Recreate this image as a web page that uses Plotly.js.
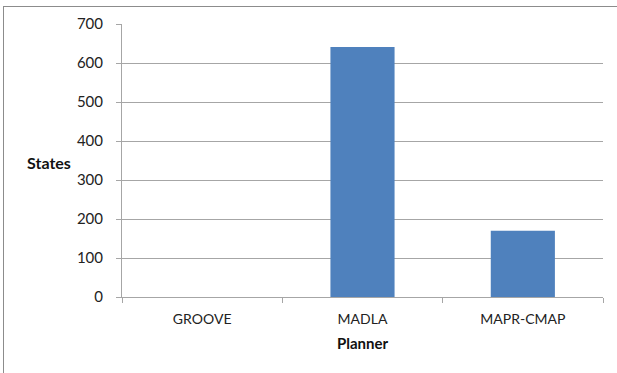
<!DOCTYPE html>
<html>
<head>
<meta charset="utf-8">
<script src="https://cdn.plot.ly/plotly-3.0.1.min.js"></script>
<style>
  html, body { margin: 0; padding: 0; background: #fff; overflow: hidden; }
  #wrap { position: relative; width: 617px; height: 373px; }
  #frame { position: absolute; left: 3px; top: 6px; width: 640px; height: 400px; border: 1px solid #8c8c8c; box-sizing: border-box; pointer-events: none; }
  #chart { position: absolute; left: 0; top: 0; width: 617px; height: 373px; }
</style>
</head>
<body>
<div id="wrap">
  <div id="chart"></div>
  <div id="frame"></div>
</div>
<script>
const planners = ["GROOVE", "MADLA", "MAPR-CMAP"];
const states = [0, 641, 170];
const yTicks = [0, 100, 200, 300, 400, 500, 600, 700];

const font = "Lato, 'Open Sans', 'Liberation Sans', sans-serif";

Plotly.newPlot("chart", [{
  type: "bar",
  x: planners,
  y: states,
  marker: { color: "#4F81BD", line: { width: 0 } },
  hoverinfo: "x+y"
}], {
  width: 617, height: 373,
  margin: { l: 122, r: 14, t: 24, b: 76, pad: 0 },
  paper_bgcolor: "rgba(0,0,0,0)",
  plot_bgcolor: "#fff",
  bargap: 0.6,
  showlegend: false,
  font: { family: font, size: 14, color: "#222" },
  xaxis: {
    type: "category",
    showgrid: false,
    showline: true, linecolor: "#a6a6a6", linewidth: 1,
    ticks: "outside", tickson: "boundaries", ticklen: 5, tickcolor: "#a6a6a6",
    ticklabelstandoff: 9,
    tickfont: { family: font, size: 14, color: "#222" },
    zeroline: false,
    title: { text: "<b>Planner</b>", font: { family: font, size: 15, color: "#111" }, standoff: 12 }
  },
  yaxis: {
    range: [0, 700],
    tickvals: yTicks,
    ticktext: yTicks.map(String),
    showgrid: true, gridcolor: "#a6a6a6", gridwidth: 1,
    showline: true, linecolor: "#a6a6a6", linewidth: 1,
    ticks: "outside", ticklen: 5, tickcolor: "#a6a6a6",
    ticklabelstandoff: 10,
    tickfont: { family: font, size: 15, color: "#222" },
    zeroline: false,
    fixedrange: true
  },
  annotations: [{
    text: "<b>States</b>", xref: "paper", yref: "paper",
    x: -0.151, y: 0.493, xanchor: "center", yanchor: "middle",
    showarrow: false, font: { family: font, size: 16, color: "#111" }
  }]
}, { displayModeBar: false, staticPlot: true });
</script>
</body>
</html>
